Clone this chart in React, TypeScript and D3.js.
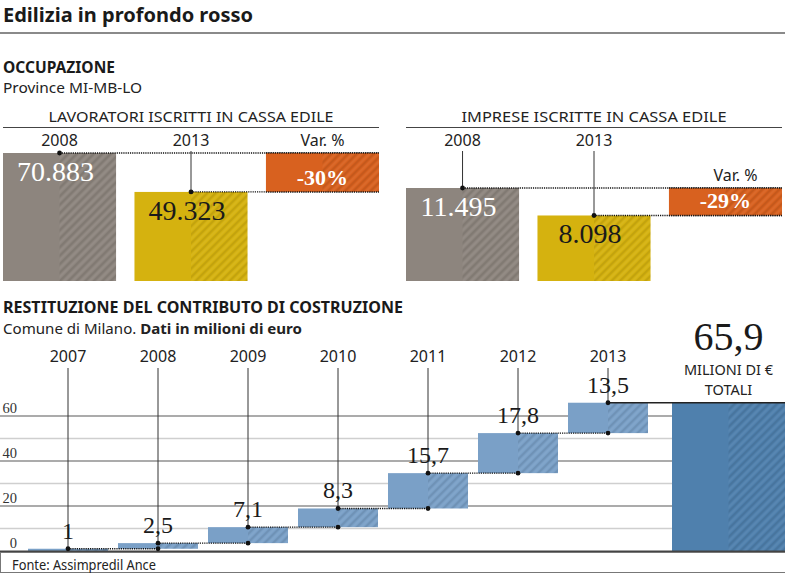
import React from "react";
import * as d3 from "d3";

// ---------- DATA ----------
const occYears = ["2008", "2013"];
const lavoratoriValues = [70883, 49323];
const lavoratoriVar = "-30%";
const impreseValues = [11495, 8098];
const impreseVar = "-29%";

const contribYears = ["2007", "2008", "2009", "2010", "2011", "2012", "2013"];
const contribValues = [1, 2.5, 7.1, 8.3, 15.7, 17.8, 13.5];
const contribTotal = 65.9;
const gridTicks = [0, 10, 20, 30, 40, 50, 60];
const labeledTicks = [0, 20, 40, 60];

// ---------- STYLE ----------
const SANS = "'Noto Sans', 'Open Sans', sans-serif";
const SERIF = "'Liberation Serif', 'DejaVu Serif', serif";
const C_GRAY = "#8d857e";
const C_YELLOW = "#d5b20f";
const C_ORANGE = "#d8611f";
const C_LBLUE = "#7aa0c7";
const C_DBLUE = "#4f80ad";
const C_TEXT = "#222";

const it = d3.formatLocale({ decimal: ",", thousands: ".", grouping: [3], currency: ["", "€"] });
const fmtInt = it.format(",d");
const fmtDec = it.format(",.1~f");

function Dot({ x, y }: { x: number; y: number }) {
  return <circle cx={x} cy={y} r={2.4} fill="#111" />;
}

function OccPanel({ x0, values, varLabel, top, title, titleLen, varOffset }: any) {
  const xb = d3.scaleBand<string>().domain([...occYears, "var"]).range([x0, x0 + 376]).paddingInner(0.14);
  const y = d3.scaleLinear().domain([0, values[0]]).range([281, top]);
  const bw = xb.bandwidth();
  const right = (xb("var") as number) + bw;
  const colors = [C_GRAY, C_YELLOW];
  const txtColors = ["#fff", "#1a1a1a"];
  const varX = xb("var") as number;
  const yTopV = y(values[0]);
  const yBotV = y(values[1]);
  return (
    <g>
      <text x={x0 + 188} y={122} textAnchor="middle" fontFamily={SANS} fontSize={14.5} fill={C_TEXT}
        textLength={titleLen} lengthAdjust="spacingAndGlyphs">{title}</text>
      <line x1={x0} x2={x0 + 376} y1={127.5} y2={127.5} stroke="#444" strokeWidth={1.2} />
      {occYears.map((yr, i) => {
        const bx = xb(yr) as number;
        const cx = bx + bw / 2;
        const yt = y(values[i]);
        return (
          <g key={yr}>
            <rect x={bx} y={yt} width={bw} height={281 - yt} fill={colors[i]} />
            <rect x={cx} y={yt} width={bw / 2} height={281 - yt} fill="url(#hatch)" />
            <text x={cx} y={146} textAnchor="middle" fontFamily={SANS} fontSize={16} fill={C_TEXT}>{yr}</text>
            <line x1={cx} x2={cx} y1={151} y2={yt} stroke="#333" strokeWidth={1} />
            <line x1={cx} x2={right} y1={yt} y2={yt} stroke="#111" strokeWidth={1.3} strokeDasharray="1.2,1" />
            <Dot x={cx} y={yt} />
            <text x={cx - 4} y={yt + 28} textAnchor="middle" fontFamily={SERIF} fontSize={28} fill={txtColors[i]}>
              {fmtInt(values[i])}
            </text>
          </g>
        );
      })}
      <rect x={varX} y={yTopV} width={bw} height={yBotV - yTopV} fill={C_ORANGE} />
      <rect x={varX + bw / 2} y={yTopV} width={bw / 2} height={yBotV - yTopV} fill="url(#hatch)" />
      <line x1={varX} x2={right} y1={yTopV} y2={yTopV} stroke="#111" strokeWidth={1.3} strokeDasharray="1.2,1" />
      <line x1={varX} x2={right} y1={yBotV} y2={yBotV} stroke="#111" strokeWidth={1.3} strokeDasharray="1.2,1" />
      <text x={varX + bw / 2 + varOffset} y={yTopV - 7} textAnchor="middle" fontFamily={SANS} fontSize={16} fill={C_TEXT}>Var. %</text>
      <text x={varX + bw / 2} y={yBotV - 7} textAnchor="middle" fontFamily={SERIF} fontWeight="bold" fontSize={22} fill="#fff">{varLabel}</text>
    </g>
  );
}

export default function App() {
  const y = d3.scaleLinear().domain([0, 60]).range([551, 416]);
  const xb = d3.scaleBand<string>().domain(contribYears).range([28, 648]).paddingInner(1 / 9);
  const bw = xb.bandwidth();
  const cum = d3.cumsum(contribValues) as any as number[];
  const starts = cum.map((c, i) => (i === 0 ? 0 : cum[i - 1]));
  const totX = 672;
  const totW = 113;
  const totCx = totX + totW / 2;

  return (
    <svg width={785} height={573} style={{ position: "absolute", left: 0, top: 0, background: "#fff" }}>
      <defs>
        <pattern id="hatch" patternUnits="userSpaceOnUse" width={6} height={6} patternTransform="rotate(45)">
          <line x1={1} y1={0} x2={1} y2={6} stroke="rgba(0,0,0,0.085)" strokeWidth={2.2} />
          <line x1={4} y1={0} x2={4} y2={6} stroke="rgba(255,255,255,0.05)" strokeWidth={2} />
        </pattern>
      </defs>
      <rect x={0} y={0} width={785} height={573} fill="#fff" />

      {/* Title */}
      <text x={3} y={22} fontFamily={SANS} fontWeight="bold" fontSize={20} fill="#1a1a1a"
        textLength={250} lengthAdjust="spacingAndGlyphs">Edilizia in profondo rosso</text>
      <line x1={0} x2={785} y1={33} y2={33} stroke="#8a8a8a" strokeWidth={2} />

      <text x={3} y={73} fontFamily={SANS} fontWeight="bold" fontSize={16} fill="#1a1a1a"
        textLength={112} lengthAdjust="spacingAndGlyphs">OCCUPAZIONE</text>
      <text x={3} y={93} fontFamily={SANS} fontSize={14.5} fill={C_TEXT}
        textLength={139} lengthAdjust="spacingAndGlyphs">Province MI-MB-LO</text>

      <OccPanel x0={3} values={lavoratoriValues} varLabel={lavoratoriVar} top={153}
        title="LAVORATORI ISCRITTI IN CASSA EDILE" titleLen={285} varOffset={0} />
      <OccPanel x0={406} values={impreseValues} varLabel={impreseVar} top={188}
        title="IMPRESE ISCRITTE  IN CASSA EDILE" titleLen={265} varOffset={10} />

      {/* Bottom section */}
      <text x={3} y={313} fontFamily={SANS} fontWeight="bold" fontSize={16} fill="#1a1a1a"
        textLength={400} lengthAdjust="spacingAndGlyphs">RESTITUZIONE DEL CONTRIBUTO DI COSTRUZIONE</text>
      <text x={3} y={334} fontFamily={SANS} fontSize={14.5} fill={C_TEXT} textLength={299} lengthAdjust="spacingAndGlyphs">
        Comune di Milano. <tspan fontWeight="bold">Dati in milioni di euro</tspan>
      </text>

      {/* gridlines */}
      {gridTicks.filter((t) => t > 0).map((t) => (
        <line key={t} x1={0} x2={785} y1={y(t)} y2={y(t)}
          stroke={t % 20 === 0 ? "#8f8f8f" : "#cfcfcf"} strokeWidth={1.3} />
      ))}
      {labeledTicks.map((t) => (
        <text key={t} x={17} y={y(t) - 3.5} textAnchor="end" fontFamily={SERIF} fontSize={14.5} fill="#333">{t}</text>
      ))}

      {/* bars */}
      {contribYears.map((yr, i) => {
        const bx = xb(yr) as number;
        const yt = y(cum[i]);
        const yb = y(starts[i]);
        return (
          <g key={yr}>
            <rect x={bx} y={yt} width={bw} height={Math.max(yb - yt, 0)} fill={C_LBLUE} />
            <rect x={bx + bw / 2} y={yt} width={bw / 2} height={Math.max(yb - yt, 0)} fill="url(#hatch)" />
          </g>
        );
      })}

      {/* total bar */}
      <rect x={totX} y={y(contribTotal)} width={totW} height={y(0) - y(contribTotal)} fill={C_DBLUE} />
      <rect x={totCx} y={y(contribTotal)} width={totW / 2} height={y(0) - y(contribTotal)} fill="url(#hatch)" />
      {cum.slice(0, -1).map((c, i) => (
        <line key={i} x1={totX} x2={totX + totW} y1={y(c)} y2={y(c)} stroke="#fff" strokeWidth={1.2} strokeDasharray="1.2,1" opacity={0.9} />
      ))}

      {/* connectors */}
      {contribYears.map((yr, i) => {
        const cx = (xb(yr) as number) + bw / 2;
        const yt = y(cum[i]);
        const nx = i < contribYears.length - 1 ? (xb(contribYears[i + 1]) as number) + bw / 2 : totX + totW;
        return (
          <g key={yr}>
            <line x1={cx} x2={cx} y1={368} y2={yt} stroke="#333" strokeWidth={1} />
            {i < contribYears.length - 1 ? (
              <line x1={cx} x2={nx} y1={yt} y2={yt} stroke="#111" strokeWidth={1.3} strokeDasharray="1.2,1" />
            ) : (
              <line x1={cx} x2={nx} y1={yt} y2={yt} stroke="#222" strokeWidth={1.6} />
            )}
          </g>
        );
      })}

      {/* zero line */}
      <line x1={0} x2={785} y1={y(0) + 0.5} y2={y(0) + 0.5} stroke="#444" strokeWidth={2} />

      {/* dots and labels */}
      {contribYears.map((yr, i) => {
        const cx = (xb(yr) as number) + bw / 2;
        const yt = y(cum[i]);
        const yb = y(starts[i]);
        return (
          <g key={yr}>
            {i > 0 && <Dot x={cx} y={yb} />}
            <Dot x={cx} y={yt} />
            <text x={cx} y={362} textAnchor="middle" fontFamily={SANS} fontSize={16} fill={C_TEXT}>{yr}</text>
            <text x={cx} y={yt - 10} textAnchor="middle" fontFamily={SERIF} fontSize={24} fill="#1a1a1a">
              {fmtDec(contribValues[i])}
            </text>
          </g>
        );
      })}

      <text x={totCx} y={350} textAnchor="middle" fontFamily={SERIF} fontSize={40} fill="#1a1a1a">{fmtDec(contribTotal)}</text>
      <text x={totCx} y={375} textAnchor="middle" fontFamily={SANS} fontSize={14.5} fill={C_TEXT}>MILIONI DI €</text>
      <text x={totCx} y={395} textAnchor="middle" fontFamily={SANS} fontSize={14.5} fill={C_TEXT}>TOTALI</text>

      {/* footer */}
      <rect x={0.5} y={552.5} width={786} height={20} fill="none" stroke="#777" strokeWidth={1} />
      <text x={12} y={570} fontFamily={SANS} fontSize={14.5} fill={C_TEXT} textLength={144} lengthAdjust="spacingAndGlyphs">Fonte: Assimpredil Ance</text>
    </svg>
  );
}
